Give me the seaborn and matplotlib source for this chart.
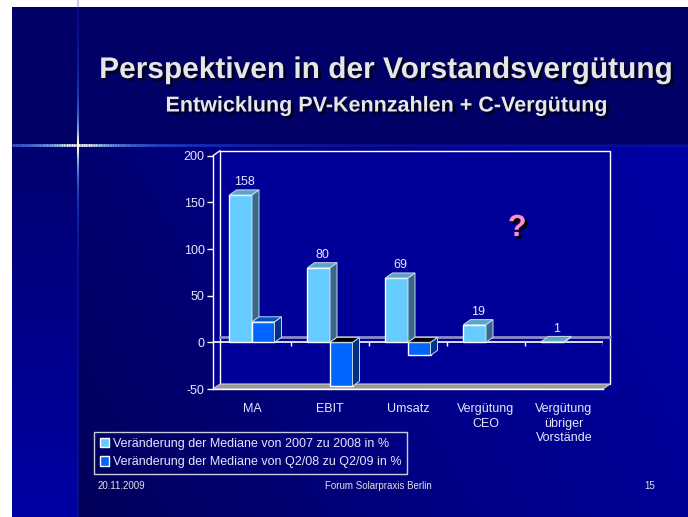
import numpy as np
import pandas as pd
import seaborn as sns
import matplotlib.pyplot as plt
import matplotlib.patheffects as pe
from matplotlib.patches import Polygon, Patch, Rectangle
from matplotlib.colors import LinearSegmentedColormap
from matplotlib.collections import LineCollection

# Daten
kategorien = ['MA', 'EBIT', 'Umsatz', 'Vergütung\nCEO', 'Vergütung\nübriger\nVorstände']
serie_namen = ['Veränderung der Mediane von 2007 zu 2008 in %',
               'Veränderung der Mediane von Q2/08 zu Q2/09 in %']
werte_2007_2008 = [158, 80, 69, 19, 1]
werte_q2 = [22, -47, -14, np.nan, np.nan]
y_ticks = [-50, 0, 50, 100, 150, 200]

titel = 'Perspektiven in der Vorstandsvergütung'
untertitel = 'Entwicklung PV-Kennzahlen + C-Vergütung'

sns.set_theme(style='white')
plt.rcParams['font.family'] = ['Liberation Sans', 'DejaVu Sans']

W, H = 688, 517
fig = plt.figure(figsize=(W / 100, H / 100), dpi=100, facecolor='white')

# Hintergrund der Folie (in Pixelkoordinaten)
bg = fig.add_axes([0, 0, 1, 1], zorder=0)
bg.axis('off')

rand = 8  # etwas über den Bildrand hinaus zeichnen
bg.add_patch(Rectangle((12, 7), W - 12 + rand, 138, color='#000066', lw=0))
xx, yy = np.meshgrid(np.linspace(0, 1, 200), np.linspace(0, 1, 150))
t = np.clip(0.75 * xx + 0.25 * (1 - yy), 0, 1)
cm_main = LinearSegmentedColormap.from_list('m', ['#00005a', '#000088', '#0000a6'])
bg.imshow(t, cmap=cm_main, extent=[78, W + rand, H + rand, 145], aspect='auto', zorder=1)
t2 = np.tile(np.linspace(0, 1, 150)[:, None], (1, 10))
cm_left = LinearSegmentedColormap.from_list('l', ['#000070', '#0000a4'])
bg.imshow(t2, cmap=cm_left, extent=[12, 78, H + rand, 145], aspect='auto', zorder=1)

# Stern / Lichtlinien
cx, cy = 78, 145
xs = np.linspace(12, W, 400)
seg = [[(xs[i], cy), (xs[i + 1], cy)] for i in range(len(xs) - 1)]
d = np.abs(xs[:-1] - cx)
cols = [(min(1, 0.2 + 1.2 * np.exp(-di / 25)), min(1, 0.3 + np.exp(-di / 40)),
         1.0, max(0.15, np.exp(-di / 180))) for di in d]
bg.add_collection(LineCollection(seg, colors=cols, linewidths=2, zorder=3))
ys = np.linspace(0, H, 400)
seg = [[(cx, ys[i]), (cx, ys[i + 1])] for i in range(len(ys) - 1)]
d = np.abs(ys[:-1] - cy)
cols = [(min(1, 0.1 + 1.2 * np.exp(-di / 20)), min(1, 0.2 + np.exp(-di / 30)),
         0.9, max(0.25, np.exp(-di / 90))) for di in d]
bg.add_collection(LineCollection(seg, colors=cols, linewidths=1.5, zorder=3))
bg.set_xlim(0, W)
bg.set_ylim(H, 0)

shadow = [pe.withSimplePatchShadow(offset=(2, -2), shadow_rgbFace='#000022', alpha=1.0)]
fig.text(386 / W, 1 - 70 / H, titel, ha='center', va='center', fontsize=21.5,
         fontweight='bold', color='#e6e6e6', path_effects=shadow)
fig.text(387 / W, 1 - 106 / H, untertitel, ha='center', va='center', fontsize=15.5,
         fontweight='bold', color='#e6e6e6', path_effects=shadow)

# Diagramm
df = pd.DataFrame({
    'Kategorie': kategorien * 2,
    'Serie': [serie_namen[0]] * len(kategorien) + [serie_namen[1]] * len(kategorien),
    'Wert': werte_2007_2008 + werte_q2,
})
df = df.dropna()

farben_front = ['#66ccff', '#0066ff']
farben_seite = ['#38698a', '#003088']
farben_oben = ['#5aa5c8', '#0050c8']

ax = fig.add_axes([213 / W, (H - 389) / H, 390 / W, (389 - 155.7) / H], zorder=2)
ax.set_facecolor('none')
sns.barplot(data=df, x='Kategorie', y='Wert', hue='Serie', order=kategorien,
            hue_order=serie_namen, palette=farben_front, width=0.577,
            edgecolor='white', linewidth=1, saturation=1, legend=False, ax=ax)
ax.set_xlim(-0.5, len(kategorien) - 0.5)
ax.set_ylim(y_ticks[0], y_ticks[-1])

p0 = ax.transData.transform((0, 0))
p1 = ax.transData.transform((1, 1))
dx = 7 / (p1[0] - p0[0])
dy = 5 / (p1[1] - p0[1])
xmin, xmax = ax.get_xlim()
ymin, ymax = ax.get_ylim()

# Rückwand, Seitenwand, Boden
ax.add_patch(Polygon([(xmin, ymin), (xmin, ymax), (xmin + dx, ymax + dy), (xmax + dx, ymax + dy),
                      (xmax + dx, ymin + dy), (xmax, ymin)], closed=True, fc='#000099', ec='none',
                     clip_on=False, zorder=0))
ax.plot([xmin + dx, xmin + dx, xmax + dx, xmax + dx], [ymin + dy, ymax + dy, ymax + dy, ymin + dy],
        color='white', lw=1, clip_on=False, zorder=0.5)
ax.plot([xmin, xmin + dx], [ymax, ymax + dy], color='white', lw=1, clip_on=False, zorder=0.5)
ax.plot([xmin + dx, xmax + dx], [dy, dy], color='#8c8cc8', lw=2, clip_on=False, zorder=0.6)
ax.add_patch(Polygon([(xmin, ymin), (xmax, ymin), (xmax + dx, ymin + dy), (xmin + dx, ymin + dy)],
                     closed=True, fc='#9a9a9a', ec='#d0d0d0', lw=0.8, clip_on=False, zorder=0.7))
ax.plot([xmin, xmax], [0, 0], color='white', lw=1.2, zorder=0.8)

n = len(kategorien)
z = 1
for si, cont in enumerate(ax.containers):
    for b in cont.patches:
        h = b.get_height()
        if np.isnan(h):
            continue
        x0 = b.get_x()
        x1 = x0 + b.get_width()
        b.set_zorder(z)
        oben = max(h, 0)
        unten = min(h, 0)
        ax.add_patch(Polygon([(x1, unten), (x1, oben), (x1 + dx, oben + dy), (x1 + dx, unten + dy)],
                             closed=True, fc=farben_seite[si], ec='#c8d8e8', lw=0.7, zorder=z))
        ax.add_patch(Polygon([(x0, oben), (x1, oben), (x1 + dx, oben + dy), (x0 + dx, oben + dy)],
                             closed=True, fc=farben_oben[si] if h >= 0 else 'black',
                             ec='#c8d8e8', lw=0.7, zorder=z))
        if si == 0:
            ax.text((x0 + x1 + dx) / 2, oben + dy + 2, f'{h:g}', ha='center', va='bottom',
                    fontsize=9, color='#e6e6ff', zorder=z)
        z += 1

# Achsen
for s in ['top', 'right']:
    ax.spines[s].set_visible(False)
for s in ['left', 'bottom']:
    ax.spines[s].set_color('white')
    ax.spines[s].set_linewidth(1)
ax.set_yticks(y_ticks)
ax.set_yticklabels([str(v) for v in y_ticks])
grenzen = np.arange(n + 1) - 0.5
ax.set_xticks(grenzen)
ax.set_xticklabels([''] * len(grenzen))
ax.set_xticks(np.arange(n), minor=True)
ax.set_xticklabels(kategorien, minor=True, linespacing=1.3)
ax.tick_params(axis='x', which='major', direction='out', length=5, width=1, color='white')
ax.tick_params(axis='x', which='minor', length=0, pad=10, labelsize=9, labelcolor='#e6e6ff')
ax.tick_params(axis='y', direction='out', length=4, width=1, color='white', pad=2,
               labelsize=9, labelcolor='#e6e6ff', left=True)
ax.set_xlabel('')
ax.set_ylabel('')
ax.vlines(grenzen[1:], 0, -4 / (p1[1] - p0[1]), color='white', lw=1, zorder=0.8)

ax.text(0.78, 0.69, '?', transform=ax.transAxes, ha='center', va='center', fontsize=22,
        fontweight='bold', color='#ff8ccc',
        path_effects=[pe.withSimplePatchShadow(offset=(2, -2), shadow_rgbFace='black', alpha=1)])

# Legende
handles = [Patch(facecolor=farben_front[i], edgecolor='white', label=serie_namen[i]) for i in range(2)]
leg = fig.legend(handles=handles, loc='lower left', bbox_to_anchor=(94 / W, 1 - 474 / H),
                 frameon=True, fancybox=False, fontsize=9, labelcolor='#e6e6ff',
                 handlelength=0.75, handleheight=0.75, handletextpad=0.3, borderpad=0.45,
                 labelspacing=0.55, borderaxespad=0)
leg.get_frame().set_edgecolor('white')
leg.get_frame().set_facecolor('none')
leg.get_frame().set_linewidth(1)

# Fußzeile
fig.text(98 / W, 1 - 486 / H, '20.11.2009', ha='left', va='center', fontsize=7, color='#e0e0e0')
fig.text(378 / W, 1 - 486 / H, 'Forum Solarpraxis Berlin', ha='center', va='center', fontsize=7,
         color='#e0e0e0')
fig.text(650 / W, 1 - 486 / H, '15', ha='center', va='center', fontsize=7, color='#e0e0e0')

fig.savefig('out.png', dpi=100, facecolor=fig.get_facecolor())
